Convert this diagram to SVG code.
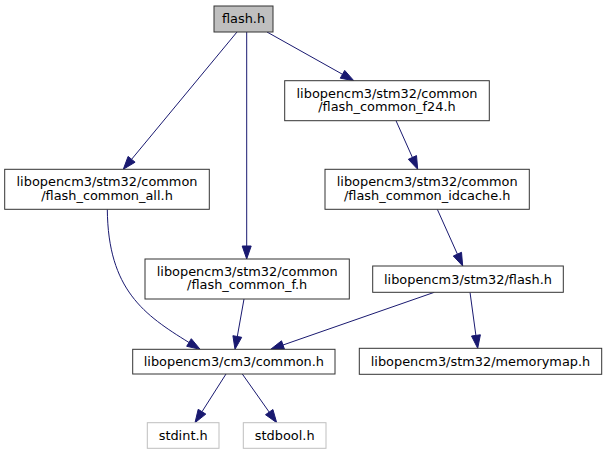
<svg xmlns="http://www.w3.org/2000/svg" width="607" height="455" viewBox="0 0 607 455">
<style>
.n rect{fill:#ffffff;stroke:#333333;stroke-width:1}
.n.root rect{fill:#bfbfbf}
.n.ext rect{stroke:#bfbfbf}
.n text{font-family:"DejaVu Sans",sans-serif;font-size:12.9px;fill:#000000;text-anchor:middle}
.e path{fill:none;stroke:#191970;stroke-width:1}
.e polygon{fill:#191970;stroke:#191970;stroke-width:1}
</style>
<rect x="0" y="0" width="607" height="455" fill="#ffffff"/>
<g id="connectors" class="e">
<path d="M237,32 L131.6,159.3"/><polygon points="123.3,169.3 135.1,162.2 128.1,156.4"/>
<path d="M246.7,32 L246.7,246"/><polygon points="246.7,259 251.2,246 242.2,246"/>
<path d="M267,32 L342.5,74.3"/><polygon points="353.8,80.7 340.3,78.2 344.7,70.4"/>
<path d="M396,120.7 L412.4,157.4"/><polygon points="417.7,169.3 408.3,159.3 416.5,155.6"/>
<path d="M437.3,209.3 L457.4,254.1"/><polygon points="462.7,266 453.3,256 461.5,252.3"/>
<path d="M107.3,209.3 C108,290 144.5,315 189,342.5"/><polygon points="200.1,349.3 186.7,346.3 191.3,338.7"/>
<path d="M244,299 L237.3,336.5"/><polygon points="235,349.3 232.9,335.7 241.7,337.3"/>
<path d="M434.3,292.3 L283,345"/><polygon points="270.7,349.3 281.5,340.8 284.5,349.3"/>
<path d="M470,292.3 L475.9,335.4"/><polygon points="477.7,348.3 471.5,336 480.4,334.8"/>
<path d="M226,374 L202,411.7"/><polygon points="195,422.7 198.2,409.3 205.8,414.1"/>
<path d="M242.3,374 L269.2,412.1"/><polygon points="276.7,422.7 265.5,414.7 272.9,409.5"/>
</g>
<g id="node-flash" class="n root"><rect x="214" y="6" width="59" height="26"/><text x="243.5" y="23.2">flash.h</text></g>
<g id="node-f24" class="n"><rect x="284.7" y="80.7" width="204.6" height="40"/><text x="387" y="97.5">libopencm3/stm32/common</text><text x="387" y="111">/flash_common_f24.h</text></g>
<g id="node-all" class="n"><rect x="4.7" y="169.3" width="204.6" height="40"/><text x="107" y="186.1">libopencm3/stm32/common</text><text x="107" y="199.6">/flash_common_all.h</text></g>
<g id="node-idcache" class="n"><rect x="325" y="169.3" width="204.3" height="40"/><text x="427.2" y="186.1">libopencm3/stm32/common</text><text x="427.2" y="199.6">/flash_common_idcache.h</text></g>
<g id="node-f" class="n"><rect x="145" y="259" width="204.3" height="40"/><text x="247.2" y="275.8">libopencm3/stm32/common</text><text x="247.2" y="289.3">/flash_common_f.h</text></g>
<g id="node-stm32flash" class="n"><rect x="372.7" y="266" width="190.6" height="26.3"/><text x="468" y="283.7">libopencm3/stm32/flash.h</text></g>
<g id="node-common" class="n"><rect x="132.7" y="349.3" width="202.3" height="24.7"/><text x="233.9" y="366.2">libopencm3/cm3/common.h</text></g>
<g id="node-memorymap" class="n"><rect x="359.3" y="348.3" width="242.4" height="26"/><text x="480.5" y="365.8">libopencm3/stm32/memorymap.h</text></g>
<g id="node-stdint" class="n ext"><rect x="147.3" y="422.7" width="71.7" height="25.6"/><text x="183.2" y="440">stdint.h</text></g>
<g id="node-stdbool" class="n ext"><rect x="243.3" y="422.7" width="82.7" height="25.6"/><text x="284.7" y="440">stdbool.h</text></g>
</svg>
